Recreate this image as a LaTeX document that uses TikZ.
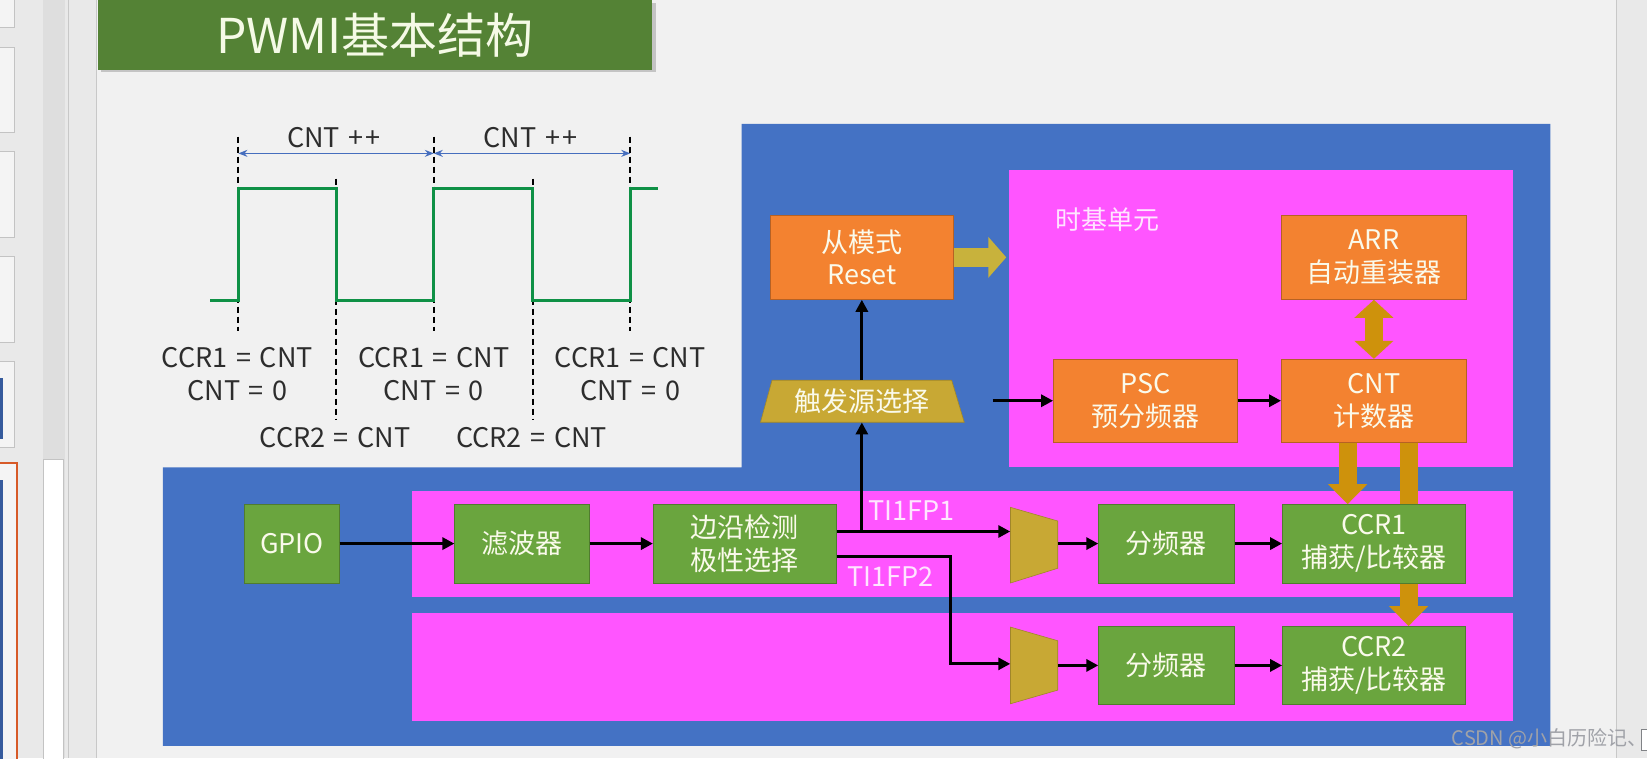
\documentclass[tikz,border=0pt]{standalone}
\usepackage{fontspec}
\setmainfont{Noto Sans CJK SC}
\usetikzlibrary{arrows.meta}
\definecolor{bgslide}{RGB}{241,241,241}
\definecolor{bgside}{RGB}{233,233,233}
\definecolor{sidestrip}{RGB}{222,222,222}
\definecolor{thumb}{RGB}{244,244,244}
\definecolor{thumbline}{RGB}{195,195,195}
\definecolor{sepline}{RGB}{200,200,200}
\definecolor{titlegreen}{RGB}{84,130,53}
\definecolor{titletext}{RGB}{245,250,230}
\definecolor{regblue}{RGB}{68,114,196}
\definecolor{pinkbg}{RGB}{255,85,255}
\definecolor{orangebox}{RGB}{243,130,48}
\definecolor{greenbox}{RGB}{106,165,62}
\definecolor{goldtrap}{RGB}{200,168,52}
\definecolor{goldarrow}{RGB}{200,178,60}
\definecolor{darkgold}{RGB}{206,146,12}
\definecolor{boxtext}{RGB}{250,250,235}
\definecolor{wavegreen}{RGB}{15,145,70}
\definecolor{waveblue}{RGB}{70,110,190}
\definecolor{labeltext}{RGB}{45,45,45}
\definecolor{wm}{RGB}{160,162,168}
\definecolor{thumbred}{RGB}{215,90,40}
\newcommand{\fsz}[1]{\fontsize{#1}{1.22\dimexpr #1pt\relax}\selectfont}
\newcommand{\wsp}{\hspace{0.32em}}
\tikzset{
  blk/.style={draw=#1!75!black, fill=#1, line width=0.8pt, text=boxtext, align=center, inner sep=0pt, font=\fsz{27}},
  sz/.style n args={2}{minimum width=#1*1.0504pt, minimum height=#2*1.0504pt},
  arr/.style={line width=3pt, black, -{Triangle[length=12pt,width=12pt]}},
  fat/.style={line width=18pt, darkgold, -{Triangle[length=20pt,width=38pt]}},
  lbl/.style={text=labeltext, font=\fsz{27}, align=center, inner sep=0pt},
  wlbl/.style={text=white!85!pinkbg, font=\fsz{27}, inner sep=0pt},
  dsh/.style={black, line width=2pt, dash pattern=on 6pt off 4pt},
}
\begin{document}
\begin{tikzpicture}[x=1.0504pt,y=-1.0504pt]
\useasboundingbox (0,0) rectangle (1568,722);
% window background
\fill[bgslide] (0,0) rectangle (1568,722);
\fill[bgside] (0,0) rectangle (92,722);
\fill[sidestrip] (41,0) rectangle (62,722);
\draw[sepline, line width=1pt] (65,0) -- (65,722);
\draw[sepline, line width=1.5pt] (92,0) -- (92,722);
\fill[bgside] (1539,0) rectangle (1568,722);
\draw[sepline, line width=1pt] (1539,0) -- (1539,722);
\foreach \a/\b in {-5/26, 45/126, 144/226, 244/326, 344/426}
  \draw[thumbline, fill=thumb, line width=0.8pt] (-5,\a) rectangle (13.3,\b);
\fill[regblue!80!black] (-2,360) rectangle (3,418);
\draw[thumbred, fill=thumb, line width=2pt] (-5,441) rectangle (16,730);
\fill[regblue!80!black] (-2,457) rectangle (3,730);
\draw[thumbline, fill=white, line width=0.8pt] (41,437) rectangle (60,730);
% title
\fill[black!40, opacity=0.5] (96,3) rectangle (625,69);
\node[fill=titlegreen, sz={528}{66}, anchor=north west, text=titletext, font=\fsz{48}, inner sep=0pt] (title) at (93,0) {PWMI基本结构};
% waveform
\foreach \x in {227,413,600} \draw[dsh] (\x,130) -- (\x,315);
\foreach \x in {320,507} \draw[dsh] (\x,170) -- (\x,400);
\draw[wavegreen, line width=3pt] (200,286) -| (227,179) -| (320,286) -| (413,179) -| (507,286) -| (600,179) -- (626,179);
\draw[waveblue, line width=1.2pt, {Stealth[length=9pt,width=7pt]}-{Stealth[length=9pt,width=7pt]}] (227,146) -- (413,146);
\draw[waveblue, line width=1.2pt, {Stealth[length=9pt,width=7pt]}-{Stealth[length=9pt,width=7pt]}] (413,146) -- (600,146);
\node[lbl] (cnt1) at (318,131) {CNT\wsp+\hspace{0.08em}+};
\node[lbl] (cnt2) at (505,131) {CNT\wsp+\hspace{0.08em}+};
\node[lbl] (c1a) at (226,356) {CCR1\wsp=\wsp CNT\\CNT\wsp=\wsp0};
\node[lbl] (c1b) at (413,356) {CCR1\wsp=\wsp CNT\\CNT\wsp=\wsp0};
\node[lbl] (c1c) at (600,356) {CCR1\wsp=\wsp CNT\\CNT\wsp=\wsp0};
\node[lbl] (c2a) at (319,417) {CCR2\wsp=\wsp CNT};
\node[lbl] (c2b) at (506,417) {CCR2\wsp=\wsp CNT};
% regions
\fill[regblue] (155,445) -- (706,445) -- (706,118) -- (1476,118) -- (1476,710) -- (155,710) -- cycle;
\fill[pinkbg] (961,162) rectangle (1440,445);
\fill[pinkbg] (392,467) rectangle (1440,568);
\fill[pinkbg] (392,584) rectangle (1440,686);
\node[wlbl, font=\fsz{26}] (tb) at (1054,209) {时基单元};
% boxes
\node[blk=orangebox, sz={175}{80}] (frommode) at (820.5,245) {从模式\\Reset};
\node[blk=orangebox, sz={176}{80}] (arr) at (1308,245) {ARR\\自动重装器};
\node[blk=orangebox, sz={175}{79}] (psc) at (1090.5,381.5) {PSC\\预分频器};
\node[blk=orangebox, sz={176}{79}] (cnt) at (1308,381.5) {CNT\\计数器};
% fat arrows (behind green boxes)
\draw[fat] (cnt.south -| 1341,0) -- (1341,596);
\draw[fat] (cnt.south -| 1283,0) -- (1283,480);
\draw[fat, {Triangle[length=18pt,width=38pt]}-{Triangle[length=18pt,width=38pt]}] (arr.south) -- (cnt.north);
\draw[line width=19pt, goldarrow, -{Triangle[length=18pt,width=40pt]}] (frommode.east) -- (958,245);
\node[blk=greenbox, sz={90}{75}] (gpio) at (278,517.5) {GPIO};
\node[blk=greenbox, sz={128}{75}] (filt) at (497,517.5) {滤波器};
\node[blk=greenbox, sz={174}{75}] (edge) at (709,517.5) {边沿检测\\极性选择};
\node[blk=greenbox, sz={129}{75}] (div1) at (1110.5,517.5) {分频器};
\node[blk=greenbox, sz={174}{75}] (ccr1) at (1308,517.5) {CCR1\\捕获/比较器};
\node[blk=greenbox, sz={129}{75}] (div2) at (1110.5,633.5) {分频器};
\node[blk=greenbox, sz={174}{75}] (ccr2) at (1308,633.5) {CCR2\\捕获/比较器};
% trigger selector
\fill[goldtrap, draw=goldtrap!80!black, line width=0.6pt] (735,362) -- (906,362) -- (918,402) -- (724,402) -- cycle;
\node[inner sep=0pt, sz={194}{40}, text=boxtext, font=\fsz{27}] (trig) at (820.5,382) {触发源选择};
% muxes
\fill[goldtrap, draw=goldtrap!80!black, line width=0.6pt] (962,483) -- (1007,496) -- (1007,541) -- (962,555) -- cycle;
\node[inner sep=0pt, sz={45}{72}] (mux1) at (984.5,519) {};
\fill[goldtrap, draw=goldtrap!80!black, line width=0.6pt] (962,597) -- (1007,610) -- (1007,657) -- (962,670) -- cycle;
\node[inner sep=0pt, sz={45}{73}] (mux2) at (984.5,633.5) {};
% signal arrows
\coordinate (tap) at (820.5,506);
\coordinate (bend1) at (905,530);
\coordinate (bend2) at (905,632);
\coordinate (trigout) at (945,381.5);
\draw[arr] (gpio) -- (filt);
\draw[arr] (filt) -- (edge);
\draw[arr] (edge.east |- tap) -- (mux1.west |- tap);
\draw[arr] (tap) -- (trig.south);
\draw[arr] (trig.north) -- (frommode.south);
\draw[arr] (edge.east |- bend1) -- (bend1) -- (bend2) -- (mux2.west |- bend2);
\draw[arr] (mux1.east |- div1.west) -- (div1.west);
\draw[arr] (div1) -- (ccr1);
\draw[arr] (mux2.east |- div2.west) -- (div2.west);
\draw[arr] (div2) -- (ccr2);
\draw[arr] (trigout) -- (psc);
\draw[arr] (psc) -- (cnt);
\node[wlbl] (tifp1) at (868,486) {TI1FP1};
\node[wlbl] (tifp2) at (848,549) {TI1FP2};
% watermark
\node[anchor=west, text=wm, font=\fsz{20}, inner sep=0pt] (wmk) at (1382,703) {CSDN @小白历险记、};
\draw[wm!80!black, line width=0.8pt, fill=white] (1563,694) rectangle (1577,714);
\end{tikzpicture}
\end{document}
